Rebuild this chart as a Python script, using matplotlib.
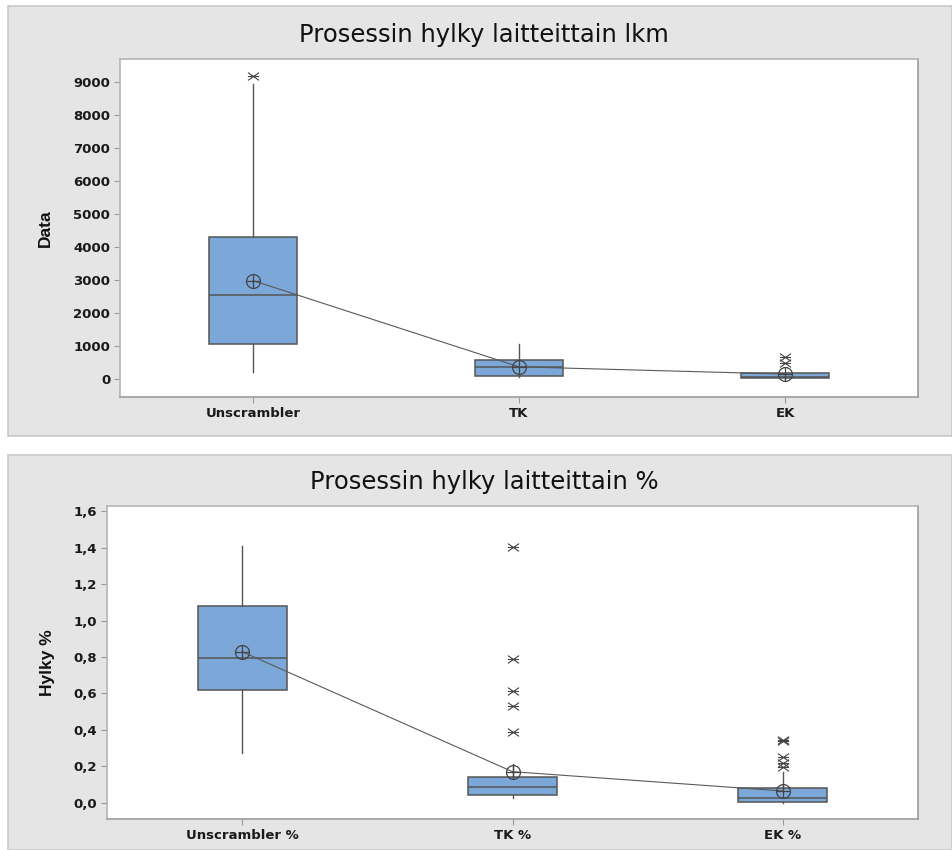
import matplotlib
matplotlib.use("Agg")
import matplotlib.pyplot as plt
from matplotlib.patches import Rectangle
from matplotlib.path import Path

# ---- Box plot summaries: reject counts per machine (kpl) ----
cats_lkm = ["Unscrambler", "TK", "EK"]
q1_lkm = [1050, 90, 30]
med_lkm = [2550, 360, 60]
q3_lkm = [4300, 575, 175]
wlo_lkm = [200, 60, 0]
whi_lkm = [8930, 1060, 175]
mean_lkm = [2980, 365, 145]
fliers_lkm = [[9180], [], [660, 470]]

# ---- Box plot summaries: reject percentage per machine ----
cats_pct = ["Unscrambler %", "TK %", "EK %"]
q1_pct = [0.618, 0.042, 0.002]
med_pct = [0.795, 0.088, 0.024]
q3_pct = [1.081, 0.139, 0.079]
wlo_pct = [0.270, 0.024, 0.0]
whi_pct = [1.409, 0.212, 0.170]
mean_pct = [0.829, 0.170, 0.064]
fliers_pct = [[], [1.404, 0.787, 0.612, 0.530, 0.388],
              [0.345, 0.340, 0.248, 0.215, 0.197]]

yticks_lkm = [0, 1000, 2000, 3000, 4000, 5000, 6000, 7000, 8000, 9000]
ytick_labels_lkm = [str(v) for v in yticks_lkm]
yticks_pct = [0.0, 0.2, 0.4, 0.6, 0.8, 1.0, 1.2, 1.4, 1.6]
ytick_labels_pct = [f"{v:.1f}".replace(".", ",") for v in yticks_pct]

W, H = 952, 850
fig = plt.figure(figsize=(W / 100, H / 100), dpi=100)
fig.patch.set_facecolor("white")

PANEL = "#e5e5e5"
PANEL_EDGE = "#c9c9c9"
BOX = "#7ba7d9"
DARK = "#555555"
TXT = "#1a1a1a"

# outlier symbol: a horizontal bar crossed by a wide X
STAR = Path([(-1, 0), (1, 0), (-1, -0.7), (1, 0.7), (-1, 0.7), (1, -0.7)],
            [Path.MOVETO, Path.LINETO] * 3)


def px_rect(x0, y0, x1, y1):
    return (x0 / W, 1 - y1 / H, (x1 - x0) / W, (y1 - y0) / H)


# gray chart panels behind each plot
for (x0, y0, x1, y1) in [(8, 6, 952, 436), (8, 455, 952, 850)]:
    l, b, w, h = px_rect(x0, y0, x1, y1)
    fig.patches.append(Rectangle((l, b), w, h, transform=fig.transFigure,
                                 facecolor=PANEL, edgecolor=PANEL_EDGE,
                                 linewidth=1.2, zorder=-5))


def draw_panel(rect, cats, q1, med, q3, wlo, whi, mean, fliers,
               yticks, ylabels, ylim, title, ylabel, title_y, ylabel_x):
    ax = fig.add_axes(px_rect(*rect))
    ax.set_zorder(2)
    ax.set_facecolor("white")
    stats = []
    for i, c in enumerate(cats):
        stats.append(dict(label=c, q1=q1[i], med=med[i], q3=q3[i],
                          whislo=wlo[i], whishi=whi[i], mean=mean[i],
                          fliers=fliers[i]))
    pos = list(range(1, len(cats) + 1))
    ax.bxp(stats, positions=pos, widths=0.33, patch_artist=True,
           showmeans=False, showcaps=False,
           boxprops=dict(facecolor=BOX, edgecolor=DARK, linewidth=1.1),
           medianprops=dict(color=DARK, linewidth=1.1),
           whiskerprops=dict(color=DARK, linewidth=1.0),
           flierprops=dict(marker=STAR, markersize=8,
                           markeredgecolor="#444444", markeredgewidth=0.8,
                           linestyle="none"))
    # connected means with crosshair circle markers
    ax.plot(pos, mean, color="#5a5a5a", linewidth=0.8, zorder=4)
    ax.plot(pos, mean, linestyle="none", marker="o", markersize=10,
            markerfacecolor="none", markeredgecolor="#444444",
            markeredgewidth=0.9, zorder=5)
    ax.plot(pos, mean, linestyle="none", marker="+", markersize=10,
            markeredgecolor="#444444", markeredgewidth=0.9, zorder=5)

    ax.set_xlim(0.5, 3.5)
    ax.set_ylim(*ylim)
    ax.set_yticks(yticks)
    ax.set_yticklabels(ylabels)
    ax.set_xticks(pos)
    ax.set_xticklabels(cats)
    for name, s in ax.spines.items():
        s.set_color("#b4b4b4" if name in ("left", "top") else "#9c9c9c")
        s.set_linewidth(1.2)
    ax.tick_params(axis="both", direction="out", length=4, width=0.8,
                   color="#9a9a9a", labelcolor=TXT, pad=3)
    for lab in ax.get_yticklabels():
        lab.set_fontsize(9.5)
        lab.set_fontweight("bold")
    for lab in ax.get_xticklabels():
        lab.set_fontsize(9.5)
        lab.set_fontweight("bold")
    fig.text(484 / W, 1 - title_y / H, title,
             ha="center", va="center", fontsize=17.5, color="#111111")
    ax.set_ylabel(ylabel, fontsize=12.5, color="#111111", fontweight="bold",
                  family=["Liberation Sans", "DejaVu Sans"])
    ax.yaxis.set_label_coords((ylabel_x - rect[0]) / (rect[2] - rect[0]), 0.5)
    return ax


draw_panel((120, 59, 918, 397), cats_lkm, q1_lkm, med_lkm, q3_lkm, wlo_lkm,
           whi_lkm, mean_lkm, fliers_lkm, yticks_lkm, ytick_labels_lkm,
           (-550, 9700), "Prosessin hylky laitteittain lkm", "Data", 35, 53)

draw_panel((107, 506, 918, 819), cats_pct, q1_pct, med_pct, q3_pct, wlo_pct,
           whi_pct, mean_pct, fliers_pct, yticks_pct, ytick_labels_pct,
           (-0.09, 1.63), "Prosessin hylky laitteittain %", "Hylky %", 482, 55)

fig.savefig("out.png", dpi=100, facecolor=fig.get_facecolor())
